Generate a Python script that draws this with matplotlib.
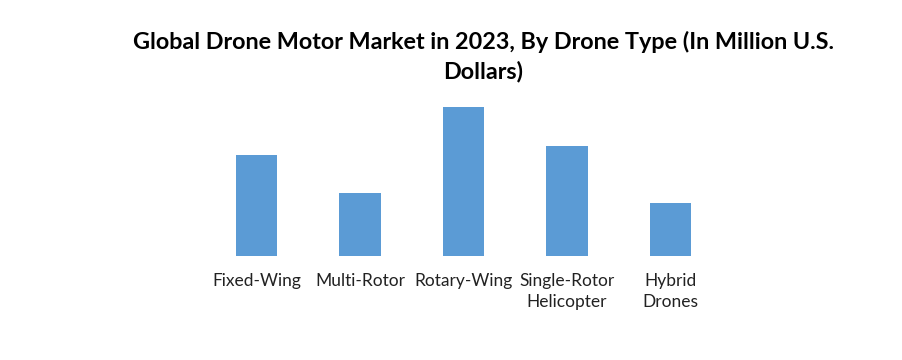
import matplotlib
matplotlib.use('agg')
import matplotlib.pyplot as plt

# drone types and bar heights (relative)
categories = ['Fixed-Wing', 'Multi-Rotor', 'Rotary-Wing', 'Single-Rotor\nHelicopter', 'Hybrid\nDrones']
values = [101, 63, 149, 110, 53]
title = 'Global Drone Motor Market in 2023, By Drone Type (In Million U.S.\nDollars)'

plt.rcParams['font.family'] = ['Lato', 'DejaVu Sans']

fig = plt.figure(figsize=(9.02, 3.6), dpi=100)
ax = fig.add_axes([0.227, 0.289, 0.5735, 0.4333])
ax.bar(range(len(values)), values, width=0.4, color='#5B9BD5')
ax.set_xlim(-0.5, len(values) - 0.5)
ax.set_ylim(0, 156)
ax.set_xticks(range(len(values)))
ax.set_xticklabels(categories, fontsize=12.5, color='#222222', linespacing=1.45)
ax.tick_params(axis='x', length=0, pad=12)
ax.set_yticks([])
for s in ax.spines.values():
    s.set_visible(False)

fig.text(0.536, 0.915, title, ha='center', va='top', fontsize=16.8,
         fontweight='bold', linespacing=1.45)

fig.savefig('out.png', dpi=100)
